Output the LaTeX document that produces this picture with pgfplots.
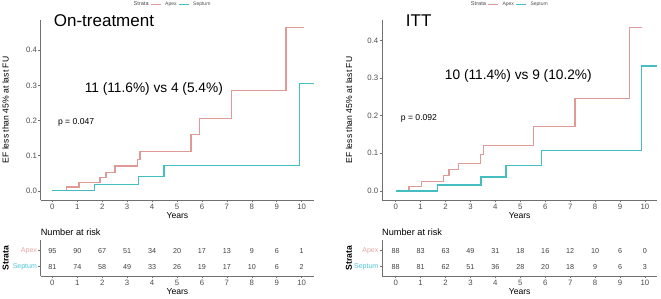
\documentclass[border=0pt]{standalone}
\usepackage{pgfplots}
\pgfplotsset{compat=1.18}
\usepackage{fontspec}
\setmainfont{Liberation Sans}
\definecolor{apex}{HTML}{DE9B96}
\definecolor{sep}{HTML}{45BEC2}
\definecolor{apexlab}{HTML}{E6A7A3}
\definecolor{seplab}{HTML}{4EC4D4}
\definecolor{tickgray}{HTML}{4D4D4D}
\definecolor{axgray}{HTML}{707070}

\pgfplotstableread{
x y
0 0
0.575 0.011
1.07 0.024
1.91 0.038
2.15 0.052
2.51 0.071
3.41 0.090
3.52 0.112
5.56 0.160
5.90 0.206
7.19 0.286
9.37 0.465
10.09 0.465
}\LApex
\pgfplotstableread{
x y
0 0
1.68 0.019
3.45 0.040
4.48 0.073
9.90 0.305
10.50 0.305
}\LSep
\pgfplotstableread{
x y
0 0
0.535 0.0115
1.02 0.025
1.91 0.041
2.14 0.056
2.51 0.073
3.41 0.096
3.52 0.120
5.52 0.171
7.19 0.245
9.37 0.435
9.87 0.435
}\RApex
\pgfplotstableread{
x y
0 0
1.67 0.016
3.42 0.037
4.43 0.067
5.86 0.108
9.87 0.332
10.50 0.332
}\RSep
\pgfplotstableread{
x y n
0 2 95
1 2 90
2 2 67
3 2 51
4 2 34
5 2 20
6 2 17
7 2 13
8 2 9
9 2 6
10 2 1
0 1 81
1 1 74
2 1 58
3 1 49
4 1 33
5 1 26
6 1 19
7 1 17
8 1 10
9 1 6
10 1 2
}\LRisk
\pgfplotstableread{
x y n
0 2 88
1 2 83
2 2 63
3 2 49
4 2 31
5 2 18
6 2 16
7 2 12
8 2 10
9 2 6
10 2 0
0 1 88
1 1 81
2 1 62
3 1 51
4 1 36
5 1 28
6 1 20
7 1 18
8 1 9
9 1 6
10 1 3
}\RRisk

\pgfplotsset{
  kmbase/.style={
    scale only axis,
    anchor=south west,
    axis lines*=left,
    axis line style={axgray, line width=0.7pt, -},
    tick style={axgray, line width=0.6pt},
    tick align=outside,
    major tick length=2.5pt,
    xtick={0,1,...,10},
    /pgf/number format/assume math mode=true,
    tick label style={font=\fontsize{7.8}{8}\selectfont, text=tickgray, inner sep=1pt},
    xlabel={Years},
    xlabel style={at={(axis description cs:0.5,0)}, yshift=-15.3pt, anchor=center, font=\fontsize{8.6}{9}\selectfont},
    clip=false,
  },
  kmmain/.style={
    kmbase,
    height=180pt,
    ytick={0,0.1,0.2,0.3,0.4},
    yticklabel style={/pgf/number format/.cd, fixed, fixed zerofill, precision=1},
    ylabel={EF less than 45\% at last FU},
    ylabel style={anchor=center, font=\fontsize{8.6}{9}\selectfont},
    legend style={draw=none, fill=none, legend columns=-1, anchor=center,
      font=\fontsize{5}{6}\selectfont, text=tickgray,
      nodes={inner sep=0.6pt},
      /tikz/every even column/.append style={column sep=1.5pt},
      /tikz/every odd column/.append style={column sep=3pt}},
    legend image code/.code={\draw[#1, line width=0.9pt] (0pt,0pt) -- (10pt,0pt);},
    legend entries={\fontsize{5.6}{6}\selectfont Strata, Apex, Septum},
  },
  kmrisk/.style={
    kmbase,
    height=36pt,
    ymin=0.42, ymax=2.67,
    ytick={1,2},
    yticklabels={\textcolor{seplab}{Septum},\textcolor{apexlab}{Apex}},
    yticklabel style={font=\fontsize{7}{8}\selectfont},
    ylabel={Strata},
    ylabel style={anchor=center, font=\bfseries\fontsize{8.6}{9}\selectfont},
  },
  kmline/.style={const plot, mark=none, line width=1.25pt},
  risknum/.style={draw=none, mark=none, nodes near coords, point meta=explicit symbolic,
    nodes near coords align=center,
    every node near coord/.append style={font=\fontsize{7.2}{8}\selectfont, text=black!75, anchor=center}},
}

\begin{document}
\begin{tikzpicture}
\useasboundingbox (0,0) rectangle (661pt,299pt);
% ---------- Left main ----------
\begin{axis}[kmmain, at={(40.6pt,99pt)}, width=273.6pt,
  xmin=-0.47, xmax=10.5, ymin=-0.026, ymax=0.486,
  ylabel style={at={(axis description cs:-0.128,0.5)}},
  legend style={at={(axis description cs:0.475,1.087)}}]
\addlegendimage{empty legend}
\addplot[kmline, apex] table[x=x,y=y] {\LApex};
\addplot[kmline, sep] table[x=x,y=y] {\LSep};
\node[anchor=base, font=\fontsize{17}{18}\selectfont] at (axis cs:2.07,0.467) {On-treatment};
\node[anchor=base, font=\fontsize{13.7}{15}\selectfont] at (axis cs:4.07,0.280) {11 (11.6\%) vs 4 (5.4\%)};
\node[anchor=base west, inner sep=0pt, font=\fontsize{8.6}{9}\selectfont] at (axis cs:0.22,0.190) {p = 0.047};
\end{axis}
% ---------- Right main ----------
\begin{axis}[kmmain, at={(382pt,99pt)}, width=275.4pt,
  xmin=-0.55, xmax=10.5, ymin=-0.024, ymax=0.454,
  ylabel style={at={(axis description cs:-0.12,0.5)}},
  legend style={at={(axis description cs:0.457,1.087)}}]
\addlegendimage{empty legend}
\addplot[kmline, apex] table[x=x,y=y] {\RApex};
\addplot[kmline, sep] table[x=x,y=y] {\RSep};
\node[anchor=base, font=\fontsize{17}{18}\selectfont] at (axis cs:0.92,0.438) {ITT};
\node[anchor=base, font=\fontsize{13.7}{15}\selectfont] at (axis cs:4.92,0.295) {10 (11.4\%) vs 9 (10.2\%)};
\node[anchor=base west, inner sep=0pt, font=\fontsize{8.6}{9}\selectfont] at (axis cs:0.2,0.188) {p = 0.092};
\end{axis}
% ---------- Left risk table ----------
\begin{axis}[kmrisk, at={(40.6pt,23pt)}, width=273.6pt,
  xmin=-0.47, xmax=10.5,
  ylabel style={at={(axis description cs:-0.128,0.5)}}]
\addplot[risknum] table[x=x,y=y,meta=n] {\LRisk};
\node[anchor=west, inner sep=0pt, font=\fontsize{9.2}{10}\selectfont] at (rel axis cs:0,1) [yshift=7.7pt] {Number at risk};
\end{axis}
% ---------- Right risk table ----------
\begin{axis}[kmrisk, at={(382pt,23pt)}, width=275.4pt,
  xmin=-0.55, xmax=10.5,
  ylabel style={at={(axis description cs:-0.12,0.5)}}]
\addplot[risknum] table[x=x,y=y,meta=n] {\RRisk};
\node[anchor=west, inner sep=0pt, font=\fontsize{9.2}{10}\selectfont] at (rel axis cs:0,1) [yshift=7.7pt] {Number at risk};
\end{axis}
\end{tikzpicture}
\end{document}
